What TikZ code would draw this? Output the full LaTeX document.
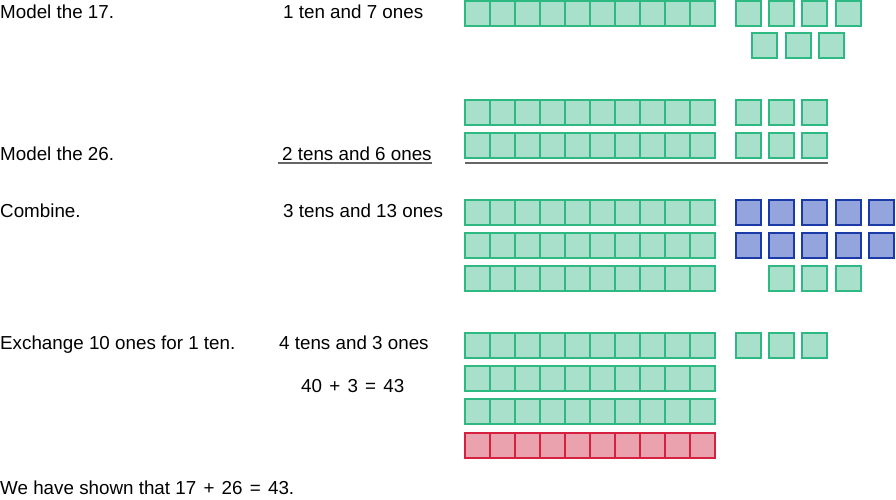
\documentclass[tikz,border=0pt]{standalone}
\usepackage{fontspec}
\setmainfont{Liberation Sans}
\definecolor{gfill}{HTML}{A8E0CC}
\definecolor{gline}{HTML}{2EB882}
\definecolor{bfill}{HTML}{93A5DC}
\definecolor{bline}{HTML}{1A3AA8}
\definecolor{rfill}{HTML}{EAA3AE}
\definecolor{rline}{HTML}{D62040}
\newcommand{\wsp}{\hspace{2pt} }
\begin{document}
\begin{tikzpicture}[x=1pt,y=-1pt,
  gsq/.style={fill=gfill,draw=gline,line width=2pt},
  bsq/.style={fill=bfill,draw=bline,line width=2pt},
  rsq/.style={fill=rfill,draw=rline,line width=2pt},
  lbl/.style={anchor=base west,inner sep=0pt,font=\fontsize{18.8}{22}\selectfont},
  rule/.style={draw=black!60,line width=2pt}]
\useasboundingbox (0,0) rectangle (896,499);
% texts
\node[lbl] (t1) at (0,18) {Model the 17.};
\node[lbl] (n1) at (283,18) {1 ten and 7 ones};
\node[lbl] (t2) at (0,160) {Model the 26.};
\node[lbl] (n2) at (282,160) {2 tens and 6 ones};
\node[lbl] (t3) at (0,217) {Combine.};
\node[lbl] (n3) at (283,217) {3 tens and 13 ones};
\node[lbl] (t4) at (0,349) {Exchange 10 ones for 1 ten.};
\node[lbl] (n4) at (279,349) {4 tens and 3 ones};
\node[lbl] (eq) at (301,392) {40\wsp+\wsp3\wsp=\wsp43};
\node[lbl] (t5) at (0,494) {We have shown that 17\wsp+\wsp26\wsp=\wsp43.};
% rods
\foreach \y/\s in {1/gsq,100/gsq,133/gsq,200/gsq,233/gsq,266/gsq,333/gsq,366/gsq,399/gsq,433/rsq}
  \foreach \i in {0,...,9}
    \draw[\s] (465+25*\i,\y) rectangle ++(25,25);
% ones
\foreach \x in {736,769,802,836} \draw[gsq] (\x,1) rectangle ++(25,25);
\foreach \x in {752,786,819} \draw[gsq] (\x,33) rectangle ++(25,25);
\foreach \y in {100,133,333}
  \foreach \x in {736,769,802} \draw[gsq] (\x,\y) rectangle ++(25,25);
\foreach \y in {200,233}
  \foreach \x in {736,769,802,836,869} \draw[bsq] (\x,\y) rectangle ++(25,25);
\foreach \x in {769,802,836} \draw[gsq] (\x,266) rectangle ++(25,25);
% underlines
\draw[rule] (278,163) -- (432,163);
\draw[rule] (465,162.5) -- (828,162.5);
\end{tikzpicture}
\end{document}
